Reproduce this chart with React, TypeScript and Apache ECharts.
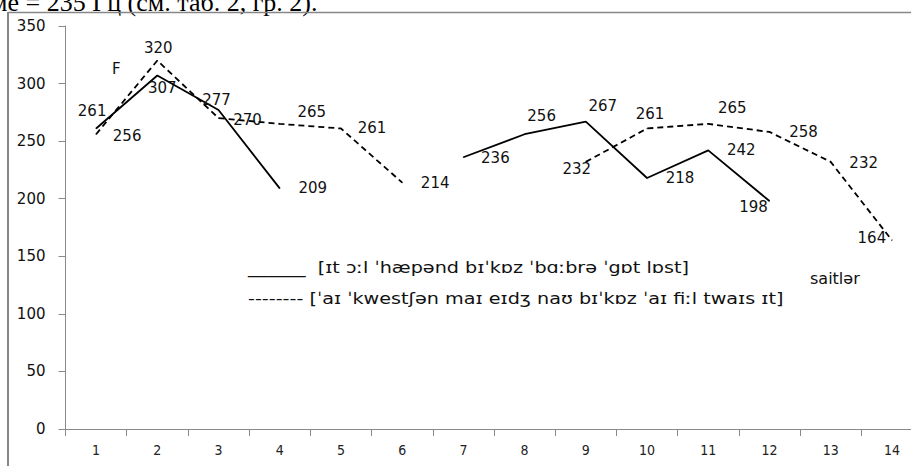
import React, { useEffect, useRef } from "react";
import * as echarts from "echarts";

const categories = ["1", "2", "3", "4", "5", "6", "7", "8", "9", "10", "11", "12", "13", "14"];
const solidValues: (number | null)[] = [261, 307, 277, 209, null, null, 236, 256, 267, 218, 242, 198, null, null];
const dashedValues: (number | null)[] = [256, 320, 270, 265, 261, 214, null, null, 232, 261, 265, 258, 232, 164];
const yMin = 0;
const yMax = 350;
const yInterval = 50;

const solidLegend = "______  [ɪt ɔːl ˈhæpənd bɪˈkɒz ˈbɑːbrə ˈgɒt lɒst]";
const dashedLegend = "-------- [ˈaɪ ˈkwestʃən maɪ eɪdʒ naʊ bɪˈkɒz ˈaɪ fiːl twaɪs ɪt]";
const headerText = "ме = 235 Гц (см. таб. 2, гр. 2).";
const axisNote = "saitlər";
const stray = "F";

// label offsets (px) from each point, styling only
const solidLabelOffsets: ([number, number] | null)[] = [
  [-4, -17.5], [5, 12.5], [-2, -10], [33, 0], null, null, [32, 1], [17, -18], [17, -16], [33, 0], [33, 0], [-16, 6], null, null,
];
const dashedLabelOffsets: ([number, number] | null)[] = [
  [31, 2], [1, -12.5], [29, 2], [32, -12], [31, 0], [33, 0], null, null, [-9, 7], [3, -14], [24, -16], [34, 0], [33, 1], [-20, -2],
];

const LABEL_FONT = '"DejaVu Sans", Verdana, sans-serif';

function buildData(values: (number | null)[], offsets: ([number, number] | null)[]) {
  return values.map((v, i) =>
    v == null
      ? "-"
      : {
          value: v,
          label: { offset: offsets[i] || [0, 0] },
        }
  );
}

export default function App() {
  const ref = useRef<HTMLDivElement>(null);
  useEffect(() => {
    if (!ref.current) return;
    const chart = echarts.init(ref.current, undefined, { renderer: "svg" });
    const labelCommon = {
      show: true,
      position: "inside" as const,
      formatter: "{c}",
      fontFamily: LABEL_FONT,
      fontSize: 15,
      color: "#111",
    };
    chart.setOption({
      animation: false,
      backgroundColor: "#fff",
      grid: {
        left: 65.5,
        top: 26,
        width: 857,
        height: 403,
        containLabel: false,
        outerBoundsMode: "none",
      },
      xAxis: {
        type: "category",
        data: categories,
        boundaryGap: true,
        axisLine: { show: true, lineStyle: { color: "#8a8a8a", width: 1 } },
        axisTick: { show: true, length: 7, alignWithLabel: false, lineStyle: { color: "#8a8a8a" } },
        axisLabel: {
          margin: 14,
          fontFamily: '"DejaVu Sans Condensed", "Liberation Sans Narrow", "Liberation Sans", sans-serif',
          fontSize: 14,
          color: "#222",
        },
        splitLine: { show: false },
      },
      yAxis: {
        type: "value",
        min: yMin,
        max: yMax,
        interval: yInterval,
        axisLine: { show: true, lineStyle: { color: "#8a8a8a", width: 1 } },
        axisTick: { show: true, length: 7, lineStyle: { color: "#8a8a8a" } },
        axisLabel: {
          margin: 20,
          fontFamily: LABEL_FONT,
          fontSize: 15,
          color: "#111",
        },
        splitLine: { show: false },
      },
      series: [
        {
          type: "line",
          data: buildData(solidValues, solidLabelOffsets),
          symbol: "circle",
          symbolSize: 1,
          showSymbol: true,
          connectNulls: false,
          itemStyle: { color: "#000" },
          lineStyle: { color: "#000", width: 1.8, type: "solid" },
          label: labelCommon,
          z: 3,
        },
        {
          type: "line",
          data: buildData(dashedValues, dashedLabelOffsets),
          symbol: "circle",
          symbolSize: 1,
          showSymbol: true,
          connectNulls: false,
          itemStyle: { color: "#000" },
          lineStyle: { color: "#000", width: 1.8, type: [6, 4] },
          label: labelCommon,
          z: 2,
        },
      ],
      graphic: [
        {
          type: "text",
          x: -9,
          y: 2.5,
          style: {
            text: headerText,
            fontFamily: '"Liberation Serif", "Times New Roman", serif',
            fontSize: 26,
            fill: "#000",
            verticalAlign: "middle",
          },
        },
        {
          type: "line",
          shape: { x1: 8, y1: 12.5, x2: 911, y2: 12.5 },
          style: { stroke: "#878787", lineWidth: 1.3 },
        },
        {
          type: "line",
          shape: { x1: 8, y1: 12, x2: 8, y2: 466 },
          style: { stroke: "#878787", lineWidth: 2 },
        },
        {
          type: "text",
          x: 112,
          y: 69,
          style: { text: stray, fontFamily: LABEL_FONT, fontSize: 15, fill: "#111", verticalAlign: "middle" },
        },
        {
          type: "text",
          x: 248,
          y: 268,
          scaleX: 1.2,
          style: { text: solidLegend, fontFamily: LABEL_FONT, fontSize: 16, fill: "#111", verticalAlign: "middle" },
        },
        {
          type: "text",
          x: 248,
          y: 299,
          scaleX: 1.2,
          style: { text: dashedLegend, fontFamily: LABEL_FONT, fontSize: 16, fill: "#111", verticalAlign: "middle" },
        },
        {
          type: "text",
          x: 810,
          y: 278,
          style: { text: axisNote, fontFamily: LABEL_FONT, fontSize: 16, fill: "#111", verticalAlign: "middle" },
        },
      ],
    });
    return () => chart.dispose();
  }, []);
  return (
    <div
      ref={ref}
      style={{ position: "fixed", left: 0, top: 0, width: 911, height: 466, background: "#fff" }}
    />
  );
}
